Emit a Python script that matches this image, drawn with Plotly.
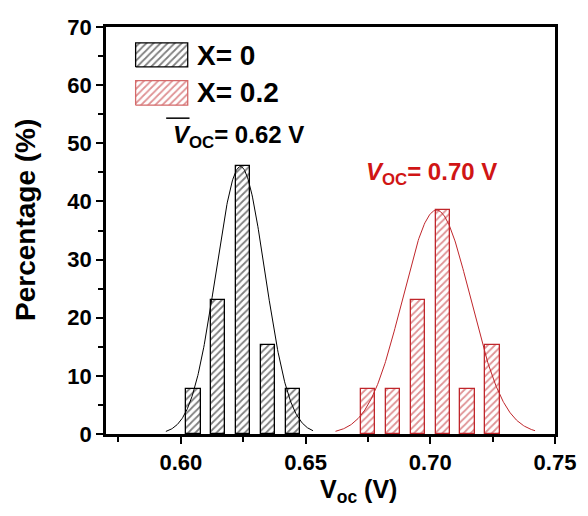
import numpy as np
import plotly.graph_objects as go

# Histogram of open-circuit voltage for the two compositions
v_x0 = [0.605, 0.615, 0.625, 0.635, 0.645]
pct_x0 = [7.69, 23.08, 46.15, 15.38, 7.69]

v_x02 = [0.675, 0.685, 0.695, 0.705, 0.715, 0.725]
pct_x02 = [7.69, 7.69, 23.08, 38.46, 7.69, 15.38]

# Gaussian fit parameters: amplitude, centre, sigma, plotted span
fit_x0 = [46.0, 0.6239, 0.0098, 0.594, 0.653]
fit_x02 = [38.5, 0.7025, 0.0136, 0.662, 0.742]

x_ticks = [0.60, 0.65, 0.70, 0.75]
x_tick_text = ["0.60", "0.65", "0.70", "0.75"]
y_ticks = [0, 10, 20, 30, 40, 50, 60, 70]

BLACK = "#000000"
RED = "#c0262b"
RED_TEXT = "#d01515"
FONT = "Liberation Sans, Arial, sans-serif"
BAR_W = 0.0058
HATCH = dict(shape="/", size=5, solidity=0.35, bgcolor="white")


def gauss_curve(p):
    amp, mu, sig, lo, hi = p
    xs = np.linspace(lo, hi, 300)
    return xs, amp * np.exp(-((xs - mu) ** 2) / (2 * sig ** 2))


fig = go.Figure()

fig.add_bar(
    x=v_x0, y=pct_x0, width=BAR_W, showlegend=False,
    marker=dict(color="white", line=dict(color=BLACK, width=1.3),
                pattern=dict(HATCH, fgcolor=BLACK)),
)
fig.add_bar(
    x=v_x02, y=pct_x02, width=BAR_W, showlegend=False,
    marker=dict(color="white", line=dict(color=RED, width=1.3),
                pattern=dict(HATCH, fgcolor=RED)),
)

gx, gy = gauss_curve(fit_x0)
fig.add_scatter(x=gx, y=gy, mode="lines", showlegend=False,
                line=dict(color=BLACK, width=1))
gx, gy = gauss_curve(fit_x02)
fig.add_scatter(x=gx, y=gy, mode="lines", showlegend=False,
                line=dict(color=RED, width=1))

# Legend keys drawn on an overlay axis in plot-fraction units
swatches = [
    ([0.066, 0.182, 0.182, 0.066, 0.066], [0.902, 0.902, 0.961, 0.961, 0.902], BLACK, BLACK),
    ([0.066, 0.182, 0.182, 0.066, 0.066], [0.808, 0.808, 0.868, 0.868, 0.808], RED, "#d46a6a"),
]
for sx, sy, fg, edge in swatches:
    fig.add_scatter(
        x=sx, y=sy, xaxis="x2", yaxis="y2", mode="lines", fill="toself",
        showlegend=False, hoverinfo="skip",
        line=dict(color=edge, width=1.3),
        fillcolor="white",
        fillpattern=dict(HATCH, fgcolor=fg),
    )

axis_common = dict(
    showline=True, linewidth=2.5, linecolor=BLACK, mirror=True,
    ticks="outside", ticklen=7, tickwidth=1.5, tickcolor=BLACK,
    showgrid=False, zeroline=False,
    tickfont=dict(family=FONT, size=22, color=BLACK, weight="bold"),
)

fig.update_layout(
    width=588, height=516,
    margin=dict(l=106, r=26, t=27, b=82),
    plot_bgcolor="white", paper_bgcolor="white",
    bargap=0, barmode="overlay",
    xaxis=dict(range=[0.57, 0.75], tickvals=x_ticks, ticktext=x_tick_text,
               minor=dict(dtick=0.025, tick0=0.575, ticks="outside", ticklen=5,
                          tickwidth=1.5, tickcolor=BLACK),
               **axis_common),
    yaxis=dict(range=[0, 70], tickvals=y_ticks,
               minor=dict(dtick=5, ticks="outside", ticklen=5,
                          tickwidth=1.5, tickcolor=BLACK),
               **axis_common),
    xaxis2=dict(range=[0, 1], overlaying="x", visible=False, fixedrange=True),
    yaxis2=dict(range=[0, 1], overlaying="y", visible=False, fixedrange=True),
)

annotations = [
    dict(text="X= 0", x=0.198, y=0.931, xanchor="left", yanchor="middle",
         font=dict(size=28, color=BLACK)),
    dict(text="X= 0.2", x=0.198, y=0.838, xanchor="left", yanchor="middle",
         font=dict(size=28, color=BLACK)),
    dict(text="<i>V</i><sub>OC</sub>= 0.62 V", x=0.294, y=0.732,
         xanchor="center", yanchor="middle", font=dict(size=24, color=BLACK)),
    dict(text="<i>V</i><sub>OC</sub>= 0.70 V", x=0.726, y=0.639,
         xanchor="center", yanchor="middle", font=dict(size=24, color=RED_TEXT)),
    dict(text="Percentage (%)", x=-0.178, y=0.526, textangle=-90,
         xanchor="center", yanchor="middle", font=dict(size=28, color=BLACK)),
    dict(text="V<sub>oc</sub> (V)", x=0.563, y=-0.14,
         xanchor="center", yanchor="middle", font=dict(size=25, color=BLACK)),
]
for a in annotations:
    a.update(xref="paper", yref="paper", showarrow=False)
    a["font"]["family"] = FONT
    a["font"]["weight"] = "bold"
fig.update_layout(annotations=annotations)

# Mean bar over the first V
fig.add_shape(type="line", xref="paper", yref="paper",
              x0=0.134, x1=0.186, y0=0.776, y1=0.776,
              line=dict(color=BLACK, width=1.5))

fig.write_html("out.html")
